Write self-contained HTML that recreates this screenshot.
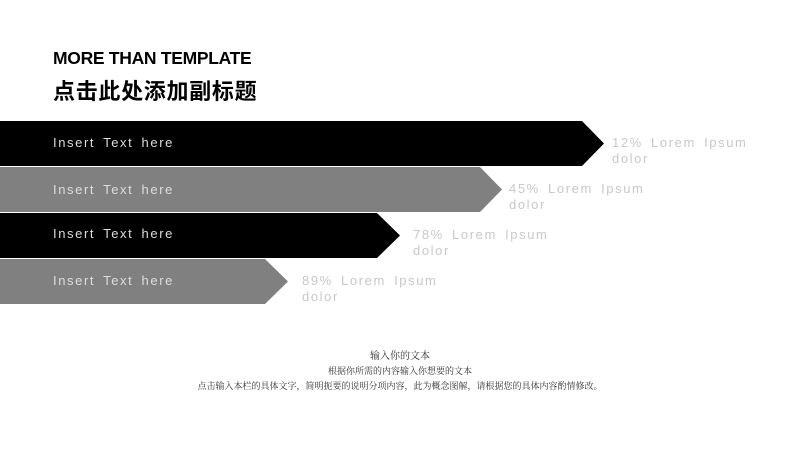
<!DOCTYPE html>
<html><head><meta charset="utf-8"><style>
body{margin:0;width:800px;height:450px;background:#fff;overflow:hidden;position:relative;font-family:"Liberation Sans","Noto Sans CJK SC",sans-serif}
.a{position:absolute;white-space:nowrap}
.ins{color:#ddd;font-size:13px;letter-spacing:1.6px;word-spacing:3px;left:53px}
.lb{color:#c8c8c8;font-size:13px;letter-spacing:1.6px;word-spacing:3px;line-height:16px}
.c{left:0;width:800px;text-align:center;font-family:"Noto Serif CJK SC",serif;color:#333}
</style></head><body>
<div class="a" style="left:53px;top:48px;font-size:17.5px;font-weight:bold;color:#000;letter-spacing:-0.3px">MORE THAN TEMPLATE</div>
<div class="a" style="left:53px;top:74px;font-size:22px;font-weight:bold;color:#000;letter-spacing:0.7px">点击此处添加副标题</div>
<svg class="a" style="left:0;top:0" width="800" height="450">
<polygon points="0,121 582,121 604,143.5 582,166 0,166" fill="#000"/>
<polygon points="0,167 480,167 502,189.5 480,212 0,212" fill="#808080"/>
<polygon points="0,213 377,213 400,235.5 377,258 0,258" fill="#000"/>
<polygon points="0,259 265,259 288,281.5 265,304 0,304" fill="#808080"/>
</svg>
<div class="a ins" style="top:135px">Insert Text here</div>
<div class="a ins" style="top:182px">Insert Text here</div>
<div class="a ins" style="top:226px">Insert Text here</div>
<div class="a ins" style="top:273px">Insert Text here</div>
<div class="a lb" style="left:612px;top:135px">12% Lorem Ipsum<br>dolor</div>
<div class="a lb" style="left:509px;top:181px">45% Lorem Ipsum<br>dolor</div>
<div class="a lb" style="left:413px;top:227px">78% Lorem Ipsum<br>dolor</div>
<div class="a lb" style="left:302px;top:273px">89% Lorem Ipsum<br>dolor</div>
<div class="a c" style="top:347px;font-size:10px">输入你的文本</div>
<div class="a c" style="top:364px;font-size:9px">根据你所需的内容输入你想要的文本</div>
<div class="a c" style="top:379px;font-size:9px">点击输入本栏的具体文字，简明扼要的说明分项内容，此为概念图解，请根据您的具体内容酌情修改。</div>
</body></html>
